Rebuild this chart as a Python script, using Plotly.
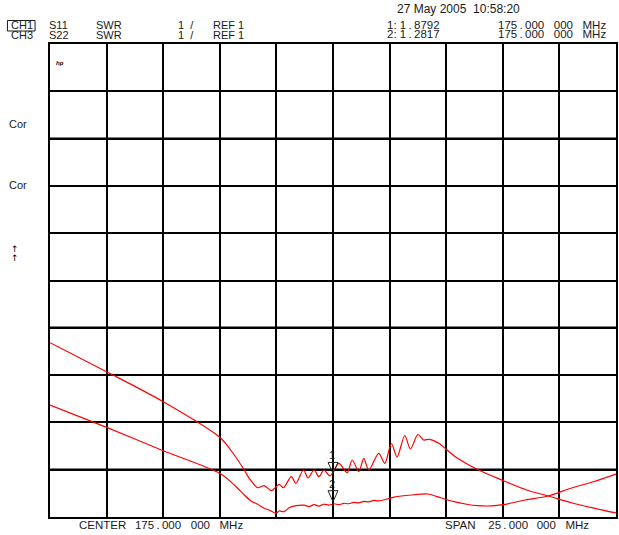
import plotly.graph_objects as go

# ---------------- data ----------------
center_mhz = 175.0
span_mhz = 25.0
ref_swr = 1.0
swr_per_div = 1.0

# CH1 S11 SWR trace
freq_s11 = [162.5, 165.0, 167.5, 170.0, 170.64, 171.08, 171.30, 171.67, 171.96, 172.28,
            172.62, 172.81, 173.16, 173.36, 173.69, 173.90, 174.16, 174.38, 174.60, 174.87,
            175.26, 175.63, 175.85, 176.14, 176.36, 176.58, 177.02, 177.29, 177.58, 177.83,
            178.17, 178.42, 178.75, 179.0, 179.27, 179.67, 180.40, 181.43, 182.53, 183.55,
            184.51, 185.53, 186.56, 187.5]
swr_s11 = [4.685, 4.072, 3.438, 2.685, 2.311, 1.994, 1.818, 1.619, 1.662, 1.556,
           1.691, 1.619, 1.852, 1.712, 1.994, 1.825, 1.994, 1.852, 1.994, 1.867,
           2.135, 1.937, 2.205, 1.958, 2.241, 1.994, 2.347, 2.135, 2.554, 2.269,
           2.723, 2.438, 2.744, 2.628, 2.643, 2.558, 2.275, 1.994, 1.767, 1.571,
           1.444, 1.302, 1.184, 1.085]

# CH3 S22 SWR trace
freq_s22 = [162.5, 165.0, 167.5, 170.0, 170.64, 171.08, 171.38, 171.67, 171.96, 172.18,
            172.48, 172.62, 172.84, 173.06, 173.36, 173.72, 173.94, 174.16, 174.38, 174.60,
            174.82, 175.04, 175.26, 175.48, 175.70, 175.92, 176.14, 176.36, 176.58, 176.80,
            177.02, 177.7, 178.45, 179.2, 179.6, 180.3, 180.9, 181.4, 182.0, 182.5,
            183.5, 184.5, 185.5, 186.5, 187.5]
swr_s22 = [3.368, 2.896, 2.402, 1.924, 1.677, 1.465, 1.338, 1.268, 1.184, 1.148,
           1.078, 1.127, 1.112, 1.197, 1.239, 1.25, 1.22, 1.26, 1.23, 1.27,
           1.25, 1.28, 1.26, 1.29, 1.28, 1.31, 1.30, 1.33, 1.32, 1.35,
           1.34, 1.42, 1.465, 1.486, 1.43, 1.33, 1.27, 1.24, 1.235, 1.26,
           1.359, 1.444, 1.607, 1.746, 1.909]

marker_ids = ["1", "2"]
marker_freqs = [175.0, 175.0]
marker_values = [1.8792, 1.2817]

NB = "\u00a0"
TH = "\u2009"
header_date = "27 May 2005" + NB + NB + "10:58:20"
ch_labels = ["CH1", "CH3"]
param_labels = ["S11", "S22"]
format_labels = ["SWR", "SWR"]
scale_labels = ["1" + NB + NB + "/", "1" + NB + NB + "/"]
ref_labels = ["REF 1", "REF 1"]
marker_readouts = ["1:" + NB + "1" + TH + "." + TH + "8792", "2:" + NB + "1" + TH + "." + TH + "2817"]
freq_str = "175" + TH + "." + TH + "000" + NB * 3 + "000" + NB * 3 + "MHz"
marker_freq_text = [freq_str, freq_str]
center_text = "CENTER" + NB * 2 + TH + "175" + TH + "." + TH + "000" + NB * 3 + "000" + NB * 3 + "MHz"
span_text = "SPAN" + NB * 4 + "25" + TH + "." + TH + "000" + NB * 2 + TH + "000" + NB * 3 + "MHz"
side_labels = ["Cor", "Cor"]

# ---------------- layout geometry ----------------
W, H = 619, 535
L, R, T, B = 50, 1, 44, 18
PW, PH = W - L - R, H - T - B

x_lo = center_mhz - span_mhz / 2
x_hi = center_mhz + span_mhz / 2
y_lo = ref_swr
y_hi = ref_swr + 10 * swr_per_div

FONT = "Liberation Sans, Arial, sans-serif"
TXT = "#1a1a1a"
RED = "#ff0000"


def pxx(px):
    return (px - L) / PW


def pxy(py):
    return (H - B - py) / PH


fig = go.Figure()

fig.add_trace(go.Scatter(x=freq_s11, y=swr_s11, mode="lines",
                         line=dict(color=RED, width=1.2, shape="spline", smoothing=0.8),
                         hoverinfo="skip", showlegend=False))
fig.add_trace(go.Scatter(x=freq_s22, y=swr_s22, mode="lines",
                         line=dict(color=RED, width=1.2, shape="spline", smoothing=0.8),
                         hoverinfo="skip", showlegend=False))

annotations = []
shapes = []


def add_text(text, px, py, size=11, xanchor="left", family=FONT, color=TXT):
    annotations.append(dict(text=text, x=pxx(px), y=pxy(py), xref="paper", yref="paper",
                            xanchor=xanchor, yanchor="middle", showarrow=False,
                            font=dict(family=family, size=size, color=color)))


# header
add_text(header_date, 396, 9.5, size=12)
row_y = [25.5, 35.0]
for i in range(2):
    add_text(ch_labels[i], 9, row_y[i], size=11)
    add_text(param_labels[i], 46.5, row_y[i], size=11)
    add_text(format_labels[i], 94.5, row_y[i], size=11)
    add_text(scale_labels[i], 176.5, row_y[i], size=11)
    add_text(ref_labels[i], 212, row_y[i], size=11)
    add_text(marker_readouts[i], 386, row_y[i] - 1, size=11.5)
    add_text(marker_freq_text[i], 498, row_y[i] - 1, size=11.5)

# CH1 box
shapes.append(dict(type="rect", xref="paper", yref="paper",
                   x0=pxx(7.3), x1=pxx(35), y0=pxy(31), y1=pxy(20.5),
                   line=dict(color=TXT, width=1)))

# left side labels
add_text(side_labels[0], 6.5, 123.5, size=11)
add_text(side_labels[1], 6.5, 185.5, size=11)
add_text("\u2191", 15, 248.5, size=9, xanchor="center", family="DejaVu Sans", color="#000000")
add_text("\u2191", 15, 258, size=9, xanchor="center", family="DejaVu Sans", color="#000000")

# hp logo
add_text("<b><i>hp</i></b>", 54, 62.5, size=6, color="#000000")

# bottom texts
add_text(center_text, 77, 524.5, size=11.5)
add_text(span_text, 444.5, 524.5, size=11.5)

# thicker grid lines (as seen in the reference rendering)
for yv in [2, 5, 9]:
    shapes.append(dict(type="line", xref="paper", yref="y", x0=0, x1=1, y0=yv, y1=yv,
                       line=dict(color="black", width=2.4), layer="below"))

# marker triangles and labels
for mid, mf, mv in zip(marker_ids, marker_freqs, marker_values):
    shapes.append(dict(type="path", xref="x", yref="y",
                       xsizemode="pixel", ysizemode="pixel", xanchor=mf, yanchor=mv,
                       path="M -5,13 L 5,13 L 0,2 Z",
                       line=dict(color="#222222", width=1), fillcolor="rgba(255,255,255,0)"))
    annotations.append(dict(text=mid, x=mf, y=mv, xref="x", yref="y", yshift=20, xshift=-1.5,
                            showarrow=False, xanchor="center", yanchor="middle",
                            font=dict(family=FONT, size=11, color=TXT)))

# reference position marker (open triangle at left edge)
shapes.append(dict(type="path", xref="x", yref="y",
                   xsizemode="pixel", ysizemode="pixel", xanchor=x_lo, yanchor=ref_swr,
                   path="M -7.5,2.5 L -2,0 L -7.5,-2.5 Z",
                   line=dict(color="black", width=1.2), fillcolor="white"))

axis_common = dict(showgrid=True, gridcolor="black", gridwidth=1.5, zeroline=False,
                   showticklabels=False, ticks="", showline=True, linecolor="black",
                   linewidth=2, mirror=True, fixedrange=True)

fig.update_layout(
    width=W, height=H,
    margin=dict(l=L, r=R, t=T, b=B, pad=0),
    paper_bgcolor="white", plot_bgcolor="white",
    xaxis=dict(range=[x_lo, x_hi], dtick=span_mhz / 10, tick0=x_lo, **axis_common),
    yaxis=dict(range=[y_lo, y_hi], dtick=swr_per_div, tick0=y_lo, **axis_common),
    annotations=annotations, shapes=shapes, showlegend=False,
)

fig.write_html("out.html", config={"displayModeBar": False},
               post_script="document.body.style.margin='0';document.body.style.padding='0';document.body.style.overflow='hidden';")
